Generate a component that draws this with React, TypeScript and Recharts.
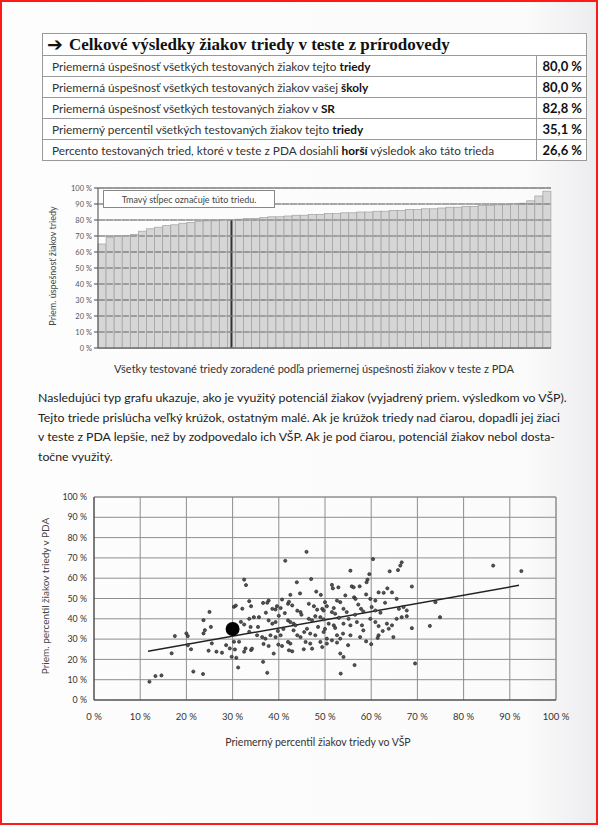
import React from 'react';
import {
  BarChart,
  Bar,
  XAxis,
  YAxis,
  CartesianGrid,
  ReferenceLine,
  ScatterChart,
  Scatter,
} from 'recharts';

// ---------- table ----------
const tableTitle = 'Celkové výsledky žiakov triedy v teste z prírodovedy';
const rowLabels: [string, string, string][] = [
  ['Priemerná úspešnosť všetkých testovaných žiakov tejto ', 'triedy', ''],
  ['Priemerná úspešnosť všetkých testovaných žiakov vašej ', 'školy', ''],
  ['Priemerná úspešnosť všetkých testovaných žiakov v ', 'SR', ''],
  ['Priemerný percentil všetkých testovaných žiakov tejto ', 'triedy', ''],
  ['Percento testovaných tried, ktoré v teste z PDA dosiahli ', 'horší', ' výsledok ako táto trieda'],
];
const rowValues = ['80,0 %', '80,0 %', '82,8 %', '35,1 %', '26,6 %'];

// ---------- bar chart ----------
const barValues = [
  65, 69, 70, 70, 71, 73, 74.5, 75.5, 76.5, 77, 78, 78.5, 79, 79.5, 79.5, 80,
  80, 80.5, 81, 81, 81.5, 82, 82, 82.5, 83, 83, 83.5, 83.5, 84, 84, 84.5, 84.5,
  85, 85, 85.5, 85.5, 86, 86, 86.5, 86.5, 87, 87, 87.5, 88, 88, 88.5, 88.5, 89,
  89, 89.5, 89.5, 90, 90.5, 92, 95, 98,
];
const classBarIndex = 16;
const classBarValue = 80;
const barTicks = [0, 10, 20, 30, 40, 50, 60, 70, 80, 90, 100];
const barLegendText = 'Tmavý stĺpec označuje túto triedu.';
const barYTitle = 'Priem. úspešnosť žiakov triedy';
const barXTitle = 'Všetky testované triedy zoradené podľa priemernej úspešnosti žiakov v teste z PDA';

// ---------- paragraph ----------
const paragraphLines = [
  'Nasledujúci typ grafu ukazuje, ako je využitý potenciál žiakov (vyjadrený priem. výsledkom vo VŠP).',
  'Tejto triede prislúcha veľký krúžok, ostatným malé. Ak je krúžok triedy nad čiarou, dopadli jej žiaci',
  'v teste z PDA lepšie, než by zodpovedalo ich VŠP. Ak je pod čiarou, potenciál žiakov nebol dosta-',
  'točne využitý.',
];

// ---------- scatter ----------
const classPoints: [number, number][] = [
  [32.5, 59.3], [32.9, 56.6], [25, 43.4], [23.7, 39.3], [25.3, 36], [24, 34.4], [23.7, 32.8],
  [20, 32.8], [20.3, 31.5], [17.5, 31.5], [16.8, 23], [20.3, 27], [21, 25], [21.5, 14],
  [23.6, 12.8], [24.8, 24.3], [26.5, 23.8], [27.7, 23.3], [25.5, 27.9], [28.6, 27], [29.4, 25.4],
  [29.8, 21.3], [30.8, 20.8], [31.2, 16], [30.5, 24.9], [32.5, 23.8], [12, 9], [13.3, 11.8],
  [14.6, 12.1], [30.3, 45.9], [30.7, 46.5], [33.6, 48.7], [32.1, 45], [31.8, 38.5], [32.5, 37.2],
  [33.6, 40], [33.9, 36], [31.4, 28.7], [30.3, 28.7], [33.6, 33.6], [32.8, 25.4], [34, 24.6],
  [46, 73], [41.4, 68.6], [60.4, 69.4], [66.6, 67.8], [66.3, 66.2], [64, 63.4], [65.8, 64],
  [55.5, 63.7], [59.6, 62], [59.2, 59.3], [59, 58], [47, 59.6], [43.9, 58], [51.5, 56.7],
  [51.7, 55], [52.9, 55.5], [55.8, 56], [56.2, 55.5], [57.5, 56], [48.1, 53.4], [49.1, 51.8],
  [42.5, 51.8], [61.6, 53], [62.7, 52.8], [63.5, 55], [64.5, 53], [68.8, 55.9], [65.5, 49.8],
  [54.4, 51.5], [56.3, 50.6], [56.6, 49.8], [59.8, 49.8], [60.9, 49], [63, 47.9], [40.7, 49.5],
  [37.8, 49], [37.5, 47.9], [52.6, 49], [53.3, 48.2], [50, 48.2], [50.4, 46.2], [46.5, 47.4],
  [47.6, 46.2], [42, 47.4], [42.2, 48.4], [42.9, 46.6], [39.6, 46.2], [40.4, 45.3], [38.6, 44.9],
  [39.3, 44.6], [34, 46.2], [44, 44], [44.7, 43.3], [49.4, 44.9], [49.7, 44.1], [51.9, 45.3],
  [51.5, 43.3], [52.2, 42.5], [54, 44.9], [54.7, 43.3], [57.8, 44.9], [58.3, 43.6], [60.1, 45.8],
  [60.9, 44.1], [62, 43], [66, 44.9], [67, 45.8], [67.7, 44.1], [34.6, 40.8], [35.7, 40.8],
  [37.8, 39.2], [38.6, 37.6], [39.3, 38.4], [42, 39.2], [42.5, 38.4], [43.2, 37.6], [43.6, 36.8],
  [46.5, 40], [47.2, 39.2], [47.9, 41.3], [49, 40.8], [49.7, 39.7], [50.8, 37.6], [51.9, 36.8],
  [52.2, 35.5], [54, 37.6], [55.1, 40], [55.5, 36.8], [56.9, 38.4], [58, 36.8], [58.3, 34.3],
  [59.8, 40], [60.9, 38.4], [61.6, 36.4], [63.4, 37.6], [64.5, 36.8], [63.8, 35.1], [65.5, 40],
  [66.6, 40.8], [67.7, 41.3], [35.3, 31.9], [36.4, 31], [37.1, 30.2], [38.2, 31.9], [39.3, 31],
  [40.4, 31.9], [43.2, 34.3], [44, 31.9], [44.7, 31], [46.1, 35.1], [46.8, 32.7], [47.9, 31.9],
  [49.7, 33.5], [50.4, 30.2], [52.6, 31.9], [53.3, 30.2], [53.9, 32.7], [55.5, 31.9], [57.6, 31],
  [61.6, 31.9], [61.4, 30.6], [64.8, 31], [42, 28.6], [42.5, 27.8], [45.8, 28.6], [46.8, 27.8],
  [49, 28.6], [51.5, 29.4], [52.6, 28.3], [58.9, 28.9], [34.2, 25.3], [36.7, 27.6], [37.8, 26.6],
  [39.9, 27.3], [40.7, 26.6], [42.2, 24.5], [42.9, 24], [45.4, 25], [47.2, 25.3], [49.4, 26.1],
  [50.4, 27.8], [38.9, 22.9], [53.3, 22.9], [54, 21.2], [36.6, 18.8], [37.5, 13.4], [53.4, 13],
  [56.4, 17.2], [86.4, 66.2], [92.5, 63.5], [73.9, 48.2], [74.9, 40.8], [72.7, 36.5], [68.8, 35.4],
  [69.5, 18], [36.6, 47.8], [37.2, 43], [41.3, 42.8], [44.9, 42], [48.5, 36], [50, 35], [56.5, 42],
  [57.2, 47], [45.5, 33.5], [41, 35], [39.8, 34], [55, 27], [60, 27.5], [62.5, 34], [35.5, 36],
  [48.3, 44.5], [53, 40.5], [58.9, 52], [44.6, 52.5], [40, 41.5],
];
const thisClass = { x: 30, y: 35 };
const trendStart = { x: 11.7, y: 24 };
const trendEnd = { x: 92, y: 56.5 };
const pctTicks = [0, 10, 20, 30, 40, 50, 60, 70, 80, 90, 100];
const scatterYTitle = 'Priem. percentil žiakov triedy v PDA';
const scatterXTitle = 'Priemerný percentil žiakov triedy vo VŠP';

const barData = barValues.map((v, i) => ({ idx: i, value: v }));
const scatterData = classPoints.map(([x, y]) => ({ x, y }));
const pct = (v: number) => `${v} %`;

const FONT = 'Lato, "Open Sans", sans-serif';

const rotated = (cx: number, cy: number, size: number): React.CSSProperties => ({
  position: 'absolute',
  left: cx,
  top: cy,
  transform: 'translate(-50%, -50%) rotate(-90deg)',
  whiteSpace: 'nowrap',
  fontSize: size,
  fontFamily: FONT,
  color: '#444',
});

const centered = (cx: number, cy: number, size: number): React.CSSProperties => ({
  position: 'absolute',
  left: cx,
  top: cy,
  transform: 'translate(-50%, -50%)',
  whiteSpace: 'nowrap',
  fontSize: size,
  fontFamily: FONT,
  color: '#333',
});

// bar with the 10 % grid lines showing through it (as in the printed chart)
const GridBar = (props: any) => {
  const x = Number(props.x);
  const y = Number(props.y);
  const width = Number(props.width);
  const height = Number(props.height);
  const v = Number(props?.payload?.value ?? props.value ?? 0);
  if (!(width > 0) || !(height > 0) || !(v > 0)) return <g />;
  const base = y + height;
  const ppu = height / v;
  const lines = barTicks.filter((t) => t > 0 && t < v);
  return (
    <g>
      <rect x={x} y={y} width={width} height={height} fill="#d6d6d6" stroke="#a0a0a0" strokeWidth={0.7} />
      {lines.map((t) => (
        <rect
          key={t}
          x={x + 1}
          y={base - t * ppu - 0.5}
          width={Math.max(width - 2.5, 1)}
          height={1}
          fill={t % 30 === 0 ? '#6e6e6e' : '#8a8a8a'}
        />
      ))}
    </g>
  );
};

const EmptyTick = () => <g />;

const SmallDot = (props: any) => (
  <circle cx={props.cx} cy={props.cy} r={1.6} fill="#555" stroke="#1a1a1a" strokeWidth={0.6} />
);
const BigDot = (props: any) => <circle cx={props.cx} cy={props.cy} r={7} fill="#000" />;

const BAR_MARGIN = { top: 8, right: 47, bottom: 0, left: 0 };

export default function App() {
  return (
    <div
      style={{
        position: 'absolute',
        left: 0,
        top: 0,
        width: 598,
        height: 825,
        overflow: 'hidden',
        background: 'linear-gradient(90deg, #fdfdfd 0%, #fbfbfb 88%, #ececef 100%)',
        fontFamily: FONT,
        color: '#222',
      }}
    >
      {/* table */}
      <div style={{ position: 'absolute', left: 42, top: 33, width: 543, border: '1px solid #999', background: '#fff' }}>
        <div style={{ height: 21, display: 'flex', alignItems: 'center', borderBottom: '1px solid #999', paddingLeft: 4 }}>
          <span style={{ fontFamily: '"DejaVu Sans", sans-serif', fontWeight: 700, fontSize: 19, lineHeight: '19px', marginRight: 6, color: '#111' }}>➔</span>
          <span style={{ fontFamily: '"Liberation Serif", serif', fontWeight: 700, fontSize: 17, color: '#111' }}>{tableTitle}</span>
        </div>
        {rowLabels.map((r, i) => (
          <div
            key={i}
            style={{ height: 20, display: 'flex', borderBottom: i < rowLabels.length - 1 ? '1px solid #999' : 'none' }}
          >
            <div style={{ width: 484, display: 'flex', alignItems: 'center', paddingLeft: 9, fontSize: 11.8, color: '#333', whiteSpace: 'nowrap' }}>
              <span>
                {r[0]}
                <b style={{ color: '#111' }}>{r[1]}</b>
                {r[2]}
              </span>
            </div>
            <div
              style={{
                flex: 1,
                borderLeft: '1px solid #999',
                display: 'flex',
                alignItems: 'center',
                justifyContent: 'flex-end',
                paddingRight: 4,
                fontWeight: 700,
                fontSize: 13,
                color: '#111',
              }}
            >
              {rowValues[i]}
            </div>
          </div>
        ))}
      </div>

      {/* bar chart: bars */}
      <div style={{ position: 'absolute', left: 0, top: 180 }}>
        <BarChart width={598} height={200} data={barData} margin={BAR_MARGIN} barCategoryGap={0}>
          <CartesianGrid horizontal vertical={false} stroke="#8a8a8a" />
          <XAxis dataKey="idx" type="category" tick={false} tickLine={false} axisLine={{ stroke: '#444' }} height={32} />
          <YAxis
            domain={[0, 100]}
            ticks={barTicks}
            tickFormatter={pct}
            width={98}
            tickSize={4}
            tickMargin={2}
            interval={0}
            tick={{ fontSize: 7.5, fill: '#555', fontFamily: FONT }}
            axisLine={{ stroke: '#444' }}
            tickLine={{ stroke: '#444' }}
          />
          <Bar dataKey="value" shape={(p: any) => <GridBar {...p} />} isAnimationActive={false} />
          <ReferenceLine y={100} stroke="#8f8f8f" />
          <ReferenceLine
            segment={[
              { x: classBarIndex, y: 0 },
              { x: classBarIndex, y: classBarValue },
            ]}
            stroke="#333"
            strokeWidth={2}
          />
        </BarChart>
      </div>
      {/* grid lines printed over the bars (no tick texts of its own) */}
      <div style={{ position: 'absolute', left: 0, top: 180, pointerEvents: 'none' }}>
        <BarChart width={598} height={200} data={barData} margin={BAR_MARGIN} barCategoryGap={0}>
          <CartesianGrid horizontal vertical={false} stroke="#8a8a8a" strokeDasharray="7 1" />
          <XAxis dataKey="idx" type="category" tick={false} tickLine={false} axisLine={false} height={32} />
          <YAxis
            domain={[0, 100]}
            ticks={barTicks}
            interval={0}
            tick={EmptyTick}
            tickLine={false}
            axisLine={false}
            width={98}
          />
          <Bar dataKey="value" fill="none" stroke="none" isAnimationActive={false} />
        </BarChart>
      </div>
      <div
        style={{
          position: 'absolute',
          left: 103,
          top: 190,
          width: 172,
          height: 18,
          boxSizing: 'border-box',
          border: '1px solid #888',
          background: '#fff',
          display: 'flex',
          alignItems: 'center',
          justifyContent: 'center',
          fontSize: 9,
          color: '#444',
          fontFamily: FONT,
        }}
      >
        {barLegendText}
      </div>
      <div style={rotated(52, 266, 9)}>{barYTitle}</div>
      <div style={centered(314, 368, 11)}>{barXTitle}</div>

      {/* paragraph */}
      <div style={{ position: 'absolute', left: 38, top: 388, fontSize: 12.3, lineHeight: '19.6px', color: '#222', fontFamily: FONT }}>
        {paragraphLines.map((l, i) => (
          <div key={i} style={{ whiteSpace: 'nowrap' }}>
            {l}
          </div>
        ))}
      </div>

      {/* scatter */}
      <div style={{ position: 'absolute', left: 0, top: 480 }}>
        <ScatterChart width={598} height={280} margin={{ top: 17, right: 42, bottom: 10, left: 0 }}>
          <CartesianGrid stroke="#8e8e8e" />
          <XAxis
            type="number"
            dataKey="x"
            domain={[0, 100]}
            ticks={pctTicks}
            interval={0}
            tickFormatter={pct}
            height={50}
            tickLine={false}
            tickSize={0}
            tickMargin={13}
            tick={{ fontSize: 9.5, fill: '#333', fontFamily: FONT }}
            axisLine={{ stroke: '#333' }}
          />
          <YAxis
            type="number"
            dataKey="y"
            domain={[0, 100]}
            ticks={pctTicks}
            interval={0}
            tickFormatter={pct}
            width={94}
            tickLine={false}
            tickSize={0}
            tickMargin={7}
            tick={{ fontSize: 8.8, fill: '#333', fontFamily: FONT }}
            axisLine={{ stroke: '#333' }}
          />
          <ReferenceLine y={100} stroke="#8e8e8e" />
          <ReferenceLine x={100} stroke="#8e8e8e" />
          <Scatter data={scatterData} shape={SmallDot} isAnimationActive={false} />
          <ReferenceLine segment={[trendStart, trendEnd]} stroke="#222" strokeWidth={1.5} />
          <Scatter data={[thisClass]} shape={BigDot} isAnimationActive={false} />
        </ScatterChart>
      </div>
      <div style={rotated(45, 596, 10)}>{scatterYTitle}</div>
      <div style={centered(318, 742, 10.5)}>{scatterXTitle}</div>

      {/* red frame */}
      <div
        style={{
          position: 'absolute',
          left: 0,
          top: 0,
          width: 598,
          height: 825,
          boxSizing: 'border-box',
          border: '2px solid #ff1a1a',
          pointerEvents: 'none',
        }}
      />
    </div>
  );
}
